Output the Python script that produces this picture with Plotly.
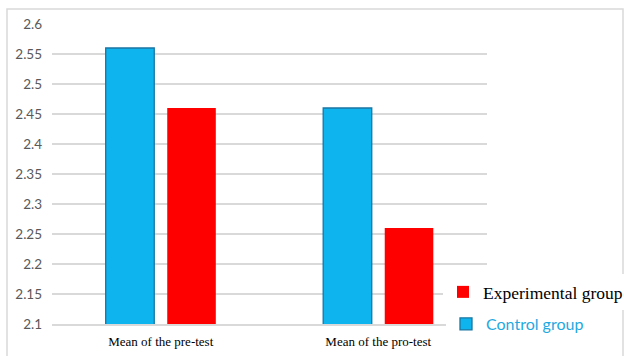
import plotly.graph_objects as go

# Category labels and group means
categories = ["Mean of the pre-test", "Mean of the pro-test"]
control_means = [2.56, 2.46]
experimental_means = [2.46, 2.26]

# Y axis ticks
y_ticks = [2.1, 2.15, 2.2, 2.25, 2.3, 2.35, 2.4, 2.45, 2.5, 2.55, 2.6]
y_tick_labels = ["2.1", "2.15", "2.2", "2.25", "2.3", "2.35", "2.4", "2.45", "2.5", "2.55", "2.6"]

BLUE = "#0DB4EE"
RED = "#FF0000"
SERIF = "Liberation Serif, Times New Roman, serif"
SANS = "Lato, Carlito, sans-serif"

fig = go.Figure()
fig.add_trace(go.Bar(
    x=categories, y=control_means, name="Control group", legend="legend2",
    marker=dict(color=BLUE, line=dict(color="#1A76A3", width=1.3)),
))
fig.add_trace(go.Bar(
    x=categories, y=experimental_means, name="Experimental group", legend="legend",
    marker=dict(color=RED, line=dict(width=0)),
))

W, H = 624, 356
L, R, T, B = 52, 137, 24, 32
pw, ph = W - L - R, H - T - B

def px_x(p):
    return (p - L) / pw

def px_y(p):
    return (H - B - p) / ph

fig.update_layout(
    width=W, height=H,
    margin=dict(l=L, r=R, t=T, b=B, autoexpand=False),
    font=dict(family=SERIF, size=13, color="#000000"),
    paper_bgcolor="white", plot_bgcolor="white",
    barmode="group", bargap=0.434, bargroupgap=0.211,
    showlegend=True,
    legend=dict(
        x=px_x(443), xanchor="left",
        y=px_y(292), yanchor="middle",
        bgcolor="white", borderwidth=0,
        font=dict(size=17.5, family=SERIF, color="#000000"),
        itemwidth=30,
    ),
    legend2=dict(
        x=px_x(446), xanchor="left",
        y=px_y(324), yanchor="middle",
        bgcolor="white", borderwidth=0,
        font=dict(size=16, family=SANS, color="#1FA9E1"),
        itemwidth=30,
    ),
    xaxis=dict(
        showgrid=False, showline=True, linecolor="#D9D9D9", linewidth=1.5,
        ticks="", tickfont=dict(family=SERIF, size=13, color="#000000"),
        ticklabelstandoff=5,
    ),
    yaxis=dict(
        range=[2.1, 2.6], tickvals=y_ticks, ticktext=y_tick_labels,
        showgrid=True, gridcolor="#D9D9D9", gridwidth=1.5,
        zeroline=False, showline=False, ticks="",
        tickfont=dict(family=SANS, size=13.5, color="#595959"),
        ticklabelstandoff=9,
    ),
    shapes=[dict(
        type="rect", xref="paper", yref="paper",
        x0=px_x(7), x1=px_x(623), y0=px_y(380), y1=px_y(9),
        line=dict(color="#D9D9D9", width=1.5), fillcolor="rgba(0,0,0,0)",
        layer="below",
    )],
)

fig.write_html("out.html")
